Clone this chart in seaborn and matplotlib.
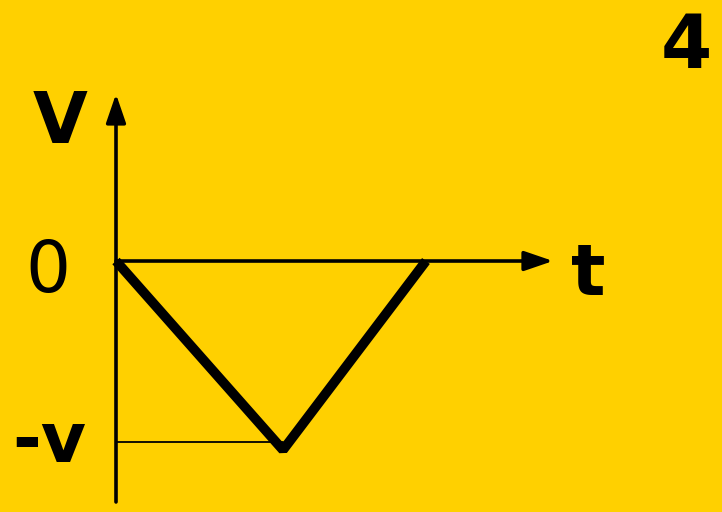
import matplotlib
matplotlib.use("Agg")
import matplotlib.pyplot as plt
import seaborn as sns
import pandas as pd

# data (t in units of the vertex time, v in units of v)
t_vals = [0.0, 1.0, 1.856]
v_vals = [0.0, -1.0, 0.0]
ref_t = [0.0, 1.0]
ref_v = [-0.956, -0.956]
t_axis_end = 2.617
v_axis_top = 0.884
v_axis_bottom = -1.275

labels = {"V": "V", "zero": "0", "t": "t", "neg": "-v", "num": "4"}

BG = "#FFD000"

sns.set_theme(style="white")
plt.rcParams['font.family'] = ['DejaVu Sans']
plt.rcParams['text.color'] = 'black'

fig = plt.figure(figsize=(7.22, 5.12), dpi=100, facecolor=BG)
ax = fig.add_axes([0, 0, 1, 1])
ax.set_facecolor(BG)
ax.set_xlim(-0.6946, 3.6287)
ax.set_ylim(-1.328, 1.381)
ax.axis("off")

df = pd.DataFrame({"t": t_vals, "v": v_vals})
sns.lineplot(data=df, x="t", y="v", sort=False, color="black", lw=7.0,
             solid_joinstyle="bevel", solid_capstyle="butt", ax=ax)
sns.lineplot(x=ref_t, y=ref_v, sort=False, color="black", lw=1.3, ax=ax)

arrow = dict(arrowstyle="-|>,head_length=1.75,head_width=0.6", color="black",
             lw=2.6, shrinkA=0, shrinkB=0, mutation_scale=10)
ax.annotate("", xy=(0, v_axis_top), xytext=(0, v_axis_bottom), arrowprops=arrow)
ax.annotate("", xy=(t_axis_end, 0), xytext=(0, 0), arrowprops=arrow)

def px2data(px, py):
    return ((px - 116) / 167.0, (261 - py) / 189.0)

x, y = px2data(60, 143)
ax.text(x, y, labels["V"], fontsize=51, fontweight="bold", ha="center", va="baseline", color="black")
x, y = px2data(48, 292)
ax.text(x, y, labels["zero"], fontsize=51, ha="center", va="baseline", color="black")
x, y = px2data(588, 295)
ax.text(x, y, labels["t"], fontsize=52, fontweight="bold", ha="center", va="baseline", color="black")
x, y = px2data(49, 462)
ax.text(x, y, labels["neg"], fontsize=50, fontweight="bold", ha="center", va="baseline", color="black")
x, y = px2data(686, 68)
ax.text(x, y, labels["num"], fontsize=53, fontweight="bold", ha="center", va="baseline", color="black")

fig.savefig("out.png", dpi=100, facecolor=BG)
